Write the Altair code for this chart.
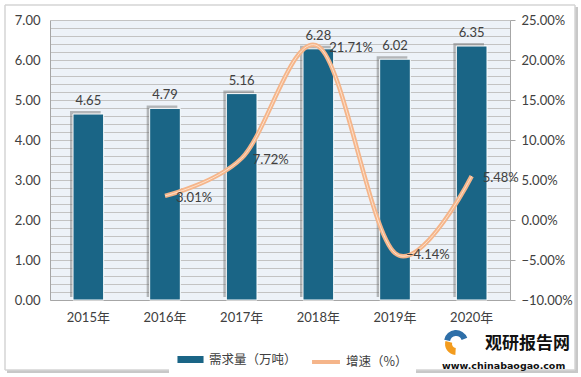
import altair as alt
import pandas as pd

years = ["2015年", "2016年", "2017年", "2018年", "2019年", "2020年"]
demand = [4.65, 4.79, 5.16, 6.28, 6.02, 6.35]
growth = [None, 3.01, 7.72, 21.71, -4.14, 5.48]
series_names = ["需求量（万吨）", "增速（%）"]
left_ticks = [round(0.2 * i, 1) for i in range(36)]
right_ticks = [-10, -5, 0, 5, 10, 15, 20, 25]
brand = "观研报告网"
site = "www.chinabaogao.com"

BLUE = "#1A6586"
ORANGE = "#F5B58A"
FONT = "Lato, 'Noto Sans CJK SC', sans-serif"
CJK = "'Noto Sans CJK SC', sans-serif"
TXT = "#404040"

df = pd.DataFrame({"year": years, "demand": demand, "growth": growth,
                   "s1": [series_names[0]] * len(years),
                   "s2": [series_names[1]] * len(years)})

x_enc = alt.X("year:N", sort=years,
              scale=alt.Scale(paddingInner=0.6, paddingOuter=0.3),
              axis=alt.Axis(title=None, labelAngle=0, ticks=False, domainColor="#A6A6A6",
                            labelPadding=11, labelFontSize=13, labelColor=TXT, labelFont=FONT))

y_left = alt.Y("demand:Q", scale=alt.Scale(domain=[0, 7], nice=False),
               axis=alt.Axis(title=None, values=left_ticks, grid=True, gridColor="#C3C3C3",
                             gridWidth=1, ticks=False, domain=True, domainColor="#A6A6A6",
                             labelOverlap=False, labelPadding=10, labelFontSize=13,
                             labelColor=TXT, labelFont=FONT,
                             labelExpr="abs(datum.value - round(datum.value)) < 0.001 ? format(datum.value, '.2f') : ''"))

y_right = alt.Y("growth:Q", scale=alt.Scale(domain=[-10, 25], nice=False),
                axis=alt.Axis(title=None, orient="right", values=right_ticks, grid=False,
                              ticks=True, tickSize=5, tickColor="#A6A6A6", domain=True,
                              domainColor="#A6A6A6", labelPadding=6, labelFontSize=13,
                              labelColor=TXT, labelFont=FONT, labelOverlap=False,
                              labelExpr="format(datum.value, '.2f') + '%'"))

base = alt.Chart(df)

shadow = base.mark_bar(color="#6A6A6A", opacity=0.45, xOffset=-3, yOffset=-3).encode(
    x=x_enc, y=y_left)

bars = base.mark_bar(stroke="white", strokeWidth=1).encode(
    x=x_enc, y=y_left,
    color=alt.Color("s1:N",
                    scale=alt.Scale(domain=[series_names[0]], range=[BLUE]),
                    legend=alt.Legend(
                        title=None, orient="none", legendX=119, legendY=318,
                        direction="horizontal", fillColor="white", padding=8,
                        labelFont=CJK, labelFontSize=12.5, labelColor=TXT,
                        symbolSize=680, labelOffset=5, symbolStrokeWidth=0,
                        symbolType="M-1,-0.27L1,-0.27L1,0.27L-1,0.27Z")))

bar_text = base.mark_text(dy=-9, baseline="alphabetic", fontSize=13, color=TXT, font=FONT).encode(
    x=x_enc, y=y_left, text=alt.Text("demand:Q", format=".2f"))

line = base.mark_line(interpolate="cardinal", strokeWidth=4.5).encode(
    x=x_enc, y=y_right,
    color=alt.Color("s2:N",
                    scale=alt.Scale(domain=[series_names[1]], range=[ORANGE]),
                    legend=alt.Legend(
                        title=None, orient="none", legendX=252, legendY=318,
                        direction="horizontal", fillColor="white", padding=8,
                        labelFont=CJK, labelFontSize=12.5, labelColor=TXT,
                        symbolSize=780, labelOffset=4, symbolStrokeWidth=4,
                        symbolType="stroke")))
line_inner = base.mark_line(interpolate="cardinal", color="#FDE4D2", strokeWidth=1, opacity=0.9).encode(
    x=x_enc, y=y_right)
line_text = base.transform_filter("isValid(datum.growth)").transform_calculate(
    lab="format(datum.growth, '.2f') + '%'"
).mark_text(align="left", baseline="middle", dx=11, dy=2, fontSize=13, color=TXT, font=FONT).encode(
    x=x_enc, y=y_right, text="lab:N")

bar_group = alt.layer(shadow, bars, bar_text)
line_group = alt.layer(line, line_inner, line_text)

one = pd.DataFrame({"k": [0]})
def hrule(x1, x2, y, color, w):
    return alt.Chart(one).mark_rule(color=color, strokeWidth=w).encode(
        x=alt.value(x1), x2=alt.value(x2), y=alt.value(y))
def vrule(x, y1, y2, color, w):
    return alt.Chart(one).mark_rule(color=color, strokeWidth=w).encode(
        x=alt.value(x), y=alt.value(y1), y2=alt.value(y2))

frame_parts = [
    hrule(-43, 528, 351.5, "#C8C8C8", 3),
    vrule(526.5, -13, 353, "#C8C8C8", 3),
    hrule(-45, 525, -15, "#D4D4D4", 1.5),
    hrule(-45, 525, 350, "#D4D4D4", 1.5),
    vrule(-45, -15, 350, "#D4D4D4", 1.5),
    vrule(525, -15, 350, "#D4D4D4", 1.5),
]

logo_blue = alt.Chart(one).mark_arc(
    radius=12, radius2=6, theta=4.9, theta2=7.5, color="#2E6FA8").encode(
    x=alt.value(406), y=alt.value(322))
logo_orange = alt.Chart(one).mark_arc(
    radius=11, radius2=4, theta=3.2, theta2=5.0, color="#F39C1E").encode(
    x=alt.value(406), y=alt.value(324))

wm1 = alt.Chart(pd.DataFrame({"t": [brand]})).mark_text(
    align="left", baseline="middle", fontSize=17, fontWeight="bold", font=CJK, color="#111111").encode(
    x=alt.value(435), y=alt.value(324), text="t:N")
wm2 = alt.Chart(pd.DataFrame({"t": [site]})).mark_text(
    align="left", baseline="middle", fontSize=9.5, fontWeight="bold", font="'DejaVu Sans', sans-serif",
    color="#111111").encode(
    x=alt.value(392), y=alt.value(346), text="t:N")

chart = alt.layer(bar_group, line_group, *frame_parts, logo_blue, logo_orange, wm1, wm2).resolve_scale(
    y="independent", color="independent"
).properties(
    width=460, height=280,
    padding={"left": 50, "top": 20, "right": 71, "bottom": 77},
    autosize=alt.AutoSizeParams(type="none"),
    background="white"
).configure_view(fill="#EDF2F8", stroke="transparent")

chart.save("out.html", embed_options={"renderer": "svg", "actions": False})
